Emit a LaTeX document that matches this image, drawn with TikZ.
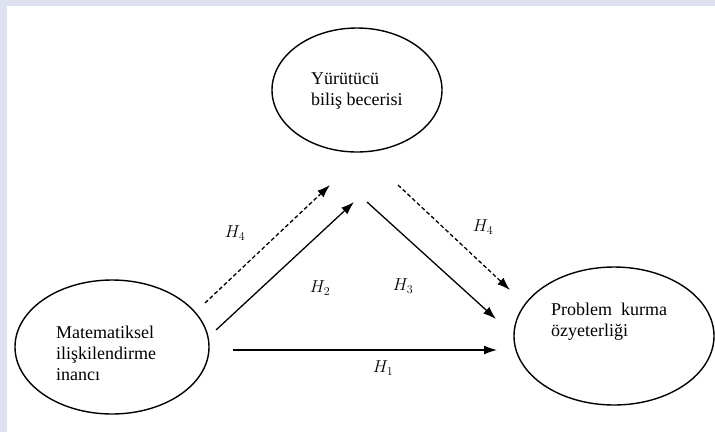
\documentclass[tikz,border=0pt]{standalone}
\usepackage{fontspec}
\setmainfont{Liberation Serif}
\usetikzlibrary{arrows.meta,shapes.geometric}
\definecolor{framebg}{RGB}{222,225,240}

\begin{document}
\begin{tikzpicture}[x=1pt,y=-1pt,
        var/.style={draw, ellipse, line width=1.4pt, inner sep=0pt},
        vartext/.style={anchor=west, align=left, inner sep=0pt, font=\fontsize{18}{21}\selectfont},
        path/.style={line width=1.3pt, -{Latex[length=13pt,width=9pt]}},
        hyp/.style={font=\fontsize{18}{20}\selectfont}]
                \useasboundingbox (0,0) rectangle (715,432);
                \fill[framebg] (0,0) rectangle (715,432);
                \fill[white] (7,6) rectangle (715,432);
                % the three variables
                \node[var, minimum width=170pt, minimum height=124pt] (ybb) at (357,90) {};
                \node[var, minimum width=194pt, minimum height=134pt] (mib) at (112,347) {};
                \node[var, minimum width=200pt, minimum height=138pt] (pko) at (614,336) {};
                \node[vartext] (ybbtext) at (311,91) {Yürütücü\\biliş becerisi};
                \node[vartext] (mibtext) at (56,353) {Matematiksel\\ilişkilendirme\\inancı};
                \node[vartext] (pkotext) at (551,322) {Problem~ kurma\\özyeterliği};
                % arrow ends
                \coordinate (h4a) at (205,303);
                \coordinate (h4b) at (330,185);
                \coordinate (h2a) at (216,330);
                \coordinate (h2b) at (354,202);
                \coordinate (h3a) at (367,202);
                \coordinate (h3b) at (496,319);
                \coordinate (h4c) at (398,185);
                \coordinate (h4d) at (510,290);
                \coordinate (h1a) at (233,350);
                \coordinate (h1b) at (497,350);
                \draw[path, dash pattern=on 4pt off 2.5pt] (h4a) -- (h4b);
                \draw[path] (h2a) -- (h2b);
                \draw[path] (h3a) -- (h3b);
                \draw[path, dash pattern=on 4pt off 2.5pt] (h4c) -- (h4d);
                \draw[path] (h1a) -- (h1b);
                \node[hyp] (lh4a) at (235,233) {$H_4$};
                \node[hyp] (lh2) at (320,288) {$H_2$};
                \node[hyp] (lh3) at (403,286) {$H_3$};
                \node[hyp] (lh4b) at (483,227) {$H_4$};
                \node[hyp] (lh1) at (383,368) {$H_1$};
            \end{tikzpicture}
\end{document}
